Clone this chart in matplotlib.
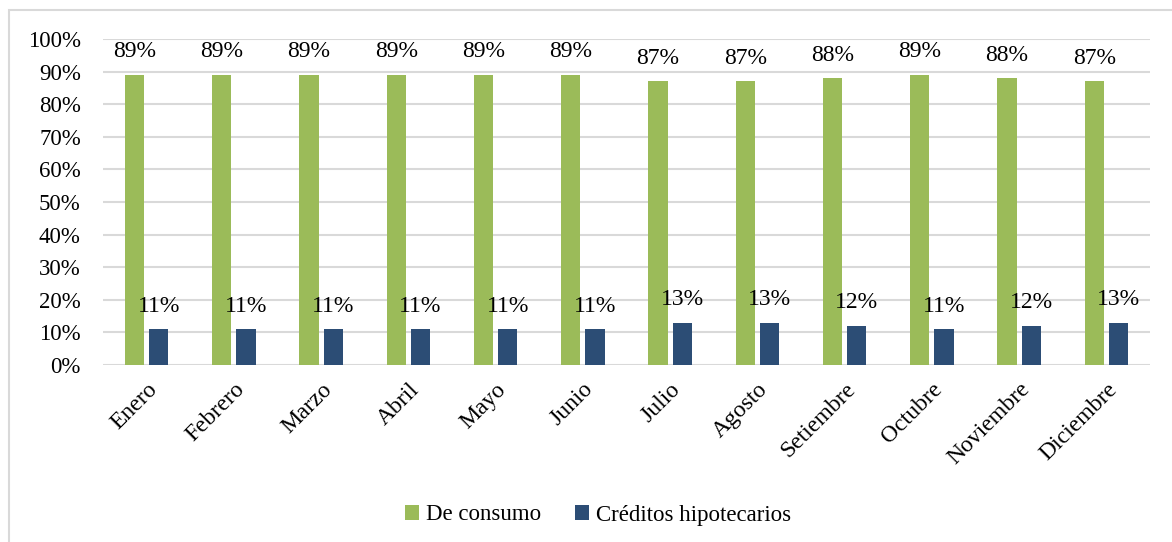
import numpy as np
import matplotlib.pyplot as plt
from matplotlib.patches import Rectangle

meses = ['Enero', 'Febrero', 'Marzo', 'Abril', 'Mayo', 'Junio', 'Julio',
         'Agosto', 'Setiembre', 'Octubre', 'Noviembre', 'Diciembre']
consumo = [89, 89, 89, 89, 89, 89, 87, 87, 88, 89, 88, 87]
hipotecarios = [11, 11, 11, 11, 11, 11, 13, 13, 12, 11, 12, 13]

verde = '#9BBB59'
azul = '#2C4D75'
gris = '#D9D9D9'

plt.rcParams['font.family'] = ['Liberation Serif', 'DejaVu Serif']

fig = plt.figure(figsize=(11.72, 5.42), dpi=100)
W, H = 1172, 542

# marco gris alrededor del grafico
fig.patches.append(Rectangle((9 / W, -0.05), 1.1, 1 - 10 / H + 0.05,
                             transform=fig.transFigure, fill=False,
                             edgecolor=gris, linewidth=1.5))

ax = fig.add_axes([103 / W, 1 - 365 / H, (1150 - 103) / W, (365 - 39) / H])

x = np.arange(len(meses))
ancho = 0.22
sep = 0.28
b1 = ax.bar(x - sep / 2, consumo, ancho, color=verde, label='De consumo', zorder=3)
b2 = ax.bar(x + sep / 2, hipotecarios, ancho, color=azul,
            label='Créditos hipotecarios', zorder=3)

for barras, vals in ((b1, consumo), (b2, hipotecarios)):
    for r, v in zip(barras, vals):
        ax.annotate(f'{v}%', (r.get_x() + r.get_width() / 2, v),
                    xytext=(0, 9), textcoords='offset points',
                    ha='center', va='bottom', fontsize=17)

ax.set_ylim(0, 100)
ax.set_xlim(-0.5, len(meses) - 0.5)
ax.set_yticks(range(0, 101, 10))
ax.set_yticklabels([f'{t}%' for t in range(0, 101, 10)], fontsize=16.5)
ax.set_xticks(x)
ax.set_xticklabels(meses, rotation=45, ha='right', rotation_mode='anchor',
                   fontsize=17)
ax.tick_params(axis='y', length=0, pad=16)
ax.tick_params(axis='x', length=0, pad=10)
ax.grid(axis='y', color=gris, linewidth=1.5, zorder=0)
for s in ax.spines.values():
    s.set_visible(False)

fig.legend(handles=[b1, b2], loc='center', bbox_to_anchor=(598 / W, 1 - 515 / H),
           ncol=2, frameon=False, fontsize=16.5, handlelength=0.6,
           handleheight=0.6, handletextpad=0.3, columnspacing=1.5)

fig.savefig('out.png', dpi=100)
